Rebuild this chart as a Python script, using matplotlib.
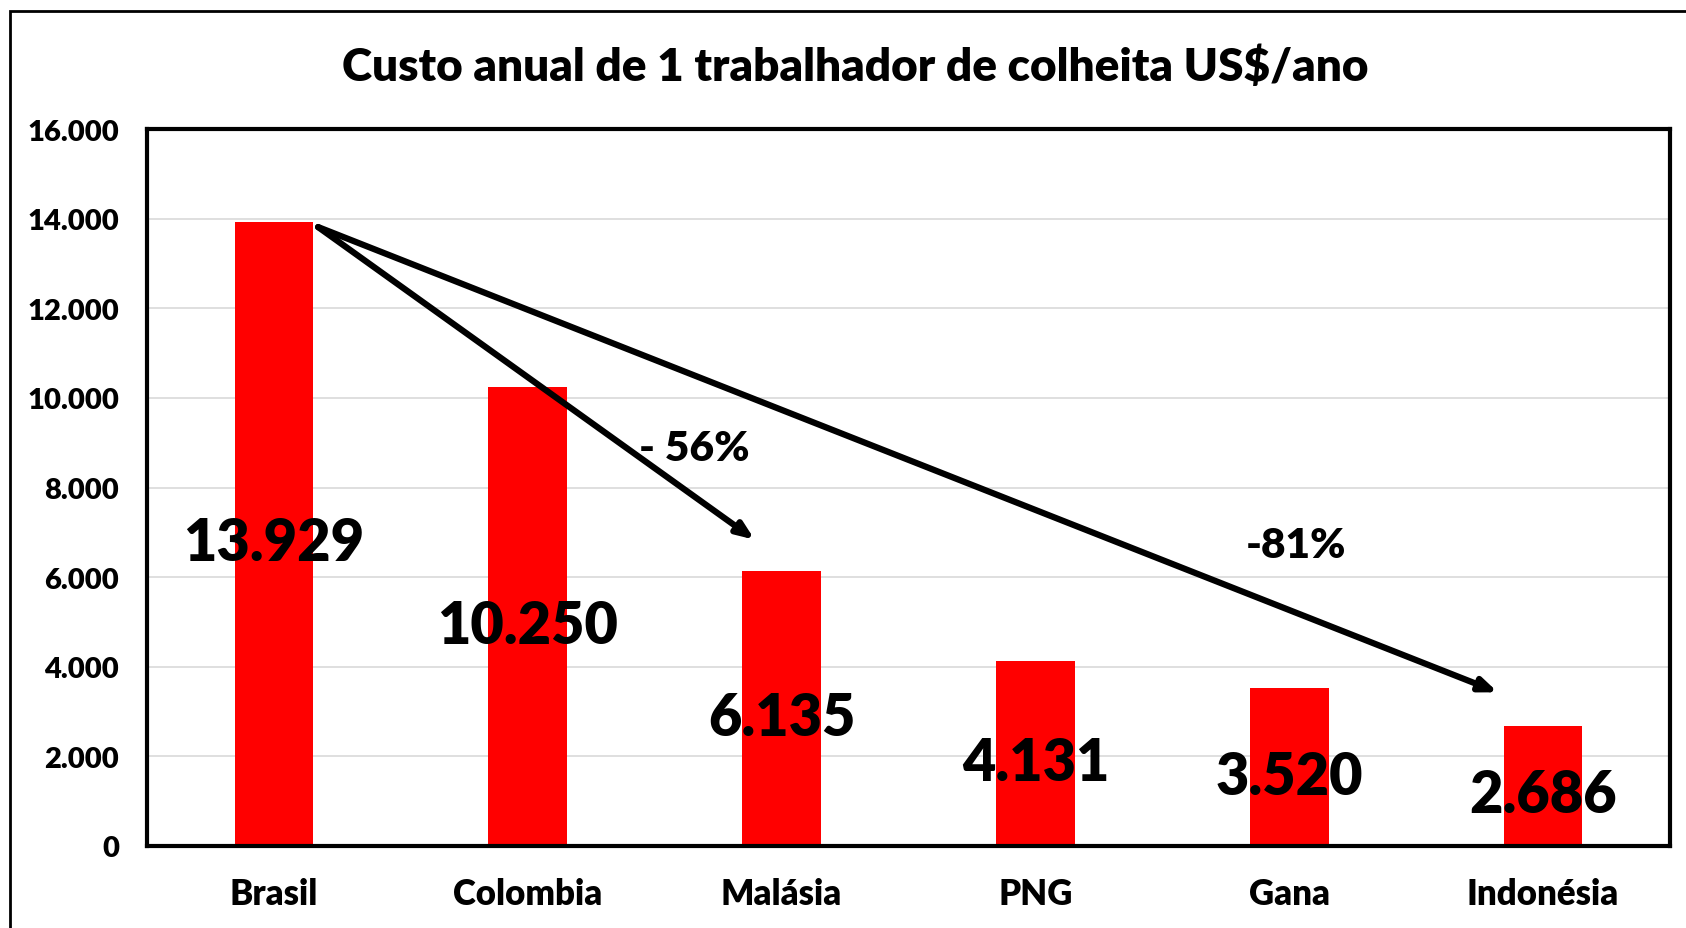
import matplotlib
matplotlib.use("Agg")
import matplotlib.pyplot as plt
from matplotlib.patches import Rectangle
from matplotlib.ticker import FuncFormatter

plt.rcParams['font.family'] = ['Lato', 'DejaVu Sans']

categories = ["Brasil", "Colombia", "Malásia", "PNG", "Gana", "Indonésia"]
values = [13929, 10250, 6135, 4131, 3520, 2686]
value_labels = ["13.929", "10.250", "6.135", "4.131", "3.520", "2.686"]
yticks = [0, 2000, 4000, 6000, 8000, 10000, 12000, 14000, 16000]
title = "Custo anual de 1 trabalhador de colheita US$/ano"
annot_56 = "- 56%"
annot_81 = "-81%"

W = 'heavy'

fig = plt.figure(figsize=(16.86, 9.29), dpi=100)
ax = fig.add_axes([0.0872, 0.0883, 0.9033, 0.7717])

x = list(range(len(categories)))
ax.bar(x, values, width=0.31, color="#FF0000", zorder=2)

ax.set_xlim(-0.5, 5.5)
ax.set_ylim(0, 16000)
ax.set_yticks(yticks)
ax.yaxis.set_major_formatter(FuncFormatter(lambda v, p: f"{int(v):,}".replace(",", ".")))
ax.set_xticks(x)
ax.set_xticklabels(categories)
ax.tick_params(axis='y', length=0, labelsize=21, pad=20)
ax.tick_params(axis='x', length=0, labelsize=25, pad=22)
for lab in ax.get_xticklabels() + ax.get_yticklabels():
    lab.set_fontweight(W)
ax.grid(axis='y', color="#D9D9D9", linewidth=1.2, zorder=0)
ax.set_axisbelow(True)
for s in ax.spines.values():
    s.set_linewidth(3)
    s.set_color("black")

for xi, v, lab in zip(x, values, value_labels):
    ax.text(xi, v / 2 - 200, lab, ha='center', va='center', fontsize=41.5,
            fontweight=W, color='black', zorder=4)

# arrows
start = (0.174, 13813)
style = "-|>,head_length=1.0,head_width=0.4"
ax.annotate("", xy=(1.894, 6835), xytext=start,
            arrowprops=dict(arrowstyle=style, lw=4.5, color="black",
                            shrinkA=0, shrinkB=0), zorder=5)
ax.annotate("", xy=(4.822, 3429), xytext=start,
            arrowprops=dict(arrowstyle=style, lw=4.5, color="black",
                            shrinkA=0, shrinkB=0), zorder=5)
ax.text(1.657, 8873, annot_56, ha='center', va='center', fontsize=30.5, fontweight=W)
ax.text(4.025, 6715, annot_81, ha='center', va='center', fontsize=30.5, fontweight=W)

fig.text(0.507, 1 - 67 / 929, title, ha='center', va='center', fontsize=33, fontweight=W)

fig.patches.append(Rectangle((10 / 1686, -0.1), 1.2, 1 - 12 / 929 + 0.1,
                             transform=fig.transFigure, fill=False,
                             edgecolor='black', linewidth=2))

fig.savefig("out.png", dpi=100)
